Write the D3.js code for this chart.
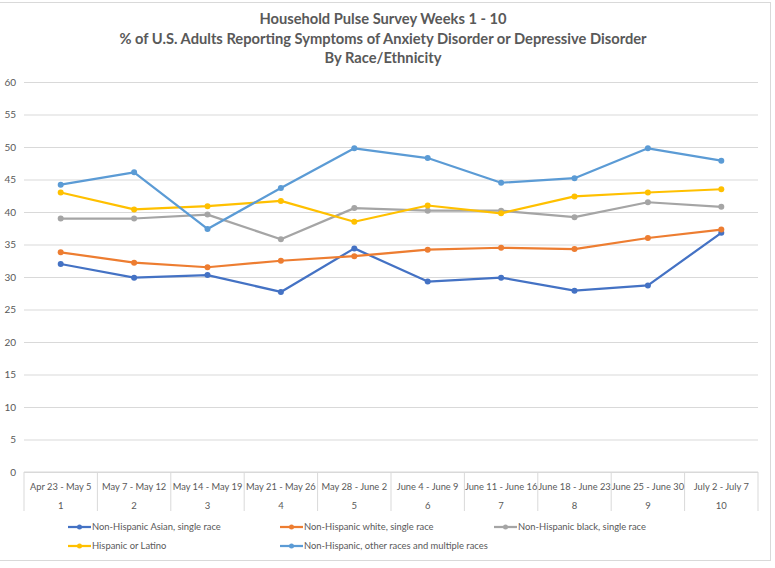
<!DOCTYPE html>
<html>
<head>
<meta charset="utf-8">
<script src="https://cdn.jsdelivr.net/npm/d3@7"></script>
<style>
  body { margin: 0; background: #fff; }
  text { font-family: Lato, "Open Sans", sans-serif; fill: #595959; }
</style>
</head>
<body>
<div id="chart"></div>
<script>
// chart data
var weeks = ["1", "2", "3", "4", "5", "6", "7", "8", "9", "10"];
var dateRanges = ["Apr 23 - May 5", "May 7 - May 12", "May 14 - May 19", "May 21 - May 26", "May 28 - June 2",
  "June 4 - June 9", "June 11 - June 16", "June 18 - June 23", "June 25 - June 30", "July 2 - July 7"];
var titleLines = ["Household Pulse Survey Weeks 1 - 10",
  "% of U.S. Adults Reporting Symptoms of Anxiety Disorder or Depressive Disorder",
  "By Race/Ethnicity"];
var yTicks = [0, 5, 10, 15, 20, 25, 30, 35, 40, 45, 50, 55, 60];

var seriesNames = ["Non-Hispanic Asian, single race", "Non-Hispanic white, single race",
  "Non-Hispanic black, single race", "Hispanic or Latino", "Non-Hispanic, other races and multiple races"];
var asian = [32.0, 29.9, 30.3, 27.7, 34.4, 29.3, 29.9, 27.9, 28.7, 36.8];
var white = [33.8, 32.2, 31.5, 32.5, 33.2, 34.2, 34.5, 34.3, 36.0, 37.3];
var black = [39.0, 39.0, 39.6, 35.8, 40.6, 40.2, 40.2, 39.2, 41.5, 40.8];
var hispanic = [43.0, 40.4, 40.9, 41.7, 38.5, 41.0, 39.8, 42.4, 43.0, 43.5];
var other = [44.2, 46.1, 37.4, 43.7, 49.8, 48.3, 44.5, 45.2, 49.8, 47.9];
var seriesColors = ["#4472C4", "#ED7D31", "#A5A5A5", "#FFC000", "#5B9BD5"];

var seriesData = [asian, white, black, hispanic, other];

// svg dimensions
var svgWidth = 775;
var svgHeight = 568;

var margin = { top: 82, left: 24, right: 17, bottom: 96 };
var width = svgWidth - margin.left - margin.right;
var height = svgHeight - margin.top - margin.bottom;

var svg = d3.select("#chart")
  .append("svg")
  .attr("width", svgWidth)
  .attr("height", svgHeight);

// outer chart frame
svg.append("rect")
  .attr("x", -1)
  .attr("y", 2.5)
  .attr("width", 771.5)
  .attr("height", 558)
  .attr("fill", "none")
  .attr("stroke", "#d9d9d9")
  .attr("stroke-width", 1);

// titles
svg.selectAll(".title")
  .data(titleLines)
  .enter()
  .append("text")
  .attr("class", "title")
  .attr("x", 383)
  .attr("y", (d, i) => 24 + i * 19.5)
  .attr("text-anchor", "middle")
  .attr("font-size", 14.7)
  .attr("font-weight", "bold")
  .text(d => d);

var chartGroup = svg.append("g")
  .attr("transform", `translate(${margin.left}, ${margin.top})`);

// scales
var xScale = d3.scaleBand()
  .domain(weeks)
  .range([0, width]);

var yScale = d3.scaleLinear()
  .domain([0, 60])
  .range([height, 0]);

// gridlines
chartGroup.append("g")
  .call(d3.axisLeft(yScale).tickValues(yTicks).tickSize(-width).tickFormat(""))
  .call(g => g.select(".domain").remove())
  .call(g => g.selectAll("line").attr("stroke", "#d9d9d9"));

// y axis labels
chartGroup.append("g")
  .call(d3.axisLeft(yScale).tickValues(yTicks).tickSize(0).tickPadding(8))
  .call(g => g.select(".domain").remove())
  .call(g => g.selectAll("text").attr("font-size", 10).attr("fill", "#595959")
    .style("font-family", "Lato, 'Open Sans', sans-serif"));

// category table under the plot
var tableHeight = 39;
chartGroup.append("line")
  .attr("x1", 0).attr("x2", width)
  .attr("y1", height).attr("y2", height)
  .attr("stroke", "#d9d9d9");

var boundaries = weeks.map(d => xScale(d)).concat([width]);
chartGroup.selectAll(".cellLine")
  .data(boundaries)
  .enter()
  .append("line")
  .attr("x1", d => d).attr("x2", d => d)
  .attr("y1", height).attr("y2", height + tableHeight)
  .attr("stroke", "#d9d9d9");

chartGroup.selectAll(".dateLabel")
  .data(dateRanges)
  .enter()
  .append("text")
  .attr("x", (d, i) => xScale(weeks[i]) + xScale.bandwidth() / 2)
  .attr("y", height + 17.5)
  .attr("text-anchor", "middle")
  .attr("font-size", 9.3)
  .text(d => d);

chartGroup.selectAll(".weekLabel")
  .data(weeks)
  .enter()
  .append("text")
  .attr("x", d => xScale(d) + xScale.bandwidth() / 2)
  .attr("y", height + 37)
  .attr("text-anchor", "middle")
  .attr("font-size", 9.5)
  .text(d => d);

// lines
var line = d3.line()
  .x((d, i) => xScale(weeks[i]) + xScale.bandwidth() / 2)
  .y(d => yScale(d));

seriesData.forEach(function(values, s) {
  chartGroup.append("path")
    .datum(values)
    .attr("fill", "none")
    .attr("stroke", seriesColors[s])
    .attr("stroke-width", 2.25)
    .attr("stroke-linejoin", "round")
    .attr("d", line);

  chartGroup.selectAll(".pt" + s)
    .data(values)
    .enter()
    .append("circle")
    .attr("cx", (d, i) => xScale(weeks[i]) + xScale.bandwidth() / 2)
    .attr("cy", d => yScale(d))
    .attr("r", 3)
    .attr("fill", seriesColors[s]);
});

// legend
var legendPos = [[68, 527], [280, 527], [494, 527], [68, 546], [280, 546]];
var legend = svg.selectAll(".legend")
  .data(seriesNames)
  .enter()
  .append("g")
  .attr("transform", (d, i) => `translate(${legendPos[i][0]}, ${legendPos[i][1]})`);

legend.append("line")
  .attr("x1", 0).attr("x2", 23)
  .attr("stroke", (d, i) => seriesColors[i])
  .attr("stroke-width", 2.25);

legend.append("circle")
  .attr("cx", 11.5)
  .attr("r", 2.5)
  .attr("fill", (d, i) => seriesColors[i]);

legend.append("text")
  .attr("x", 24)
  .attr("dy", "0.35em")
  .attr("font-size", 9.4)
  .text(d => d);
</script>
</body>
</html>
